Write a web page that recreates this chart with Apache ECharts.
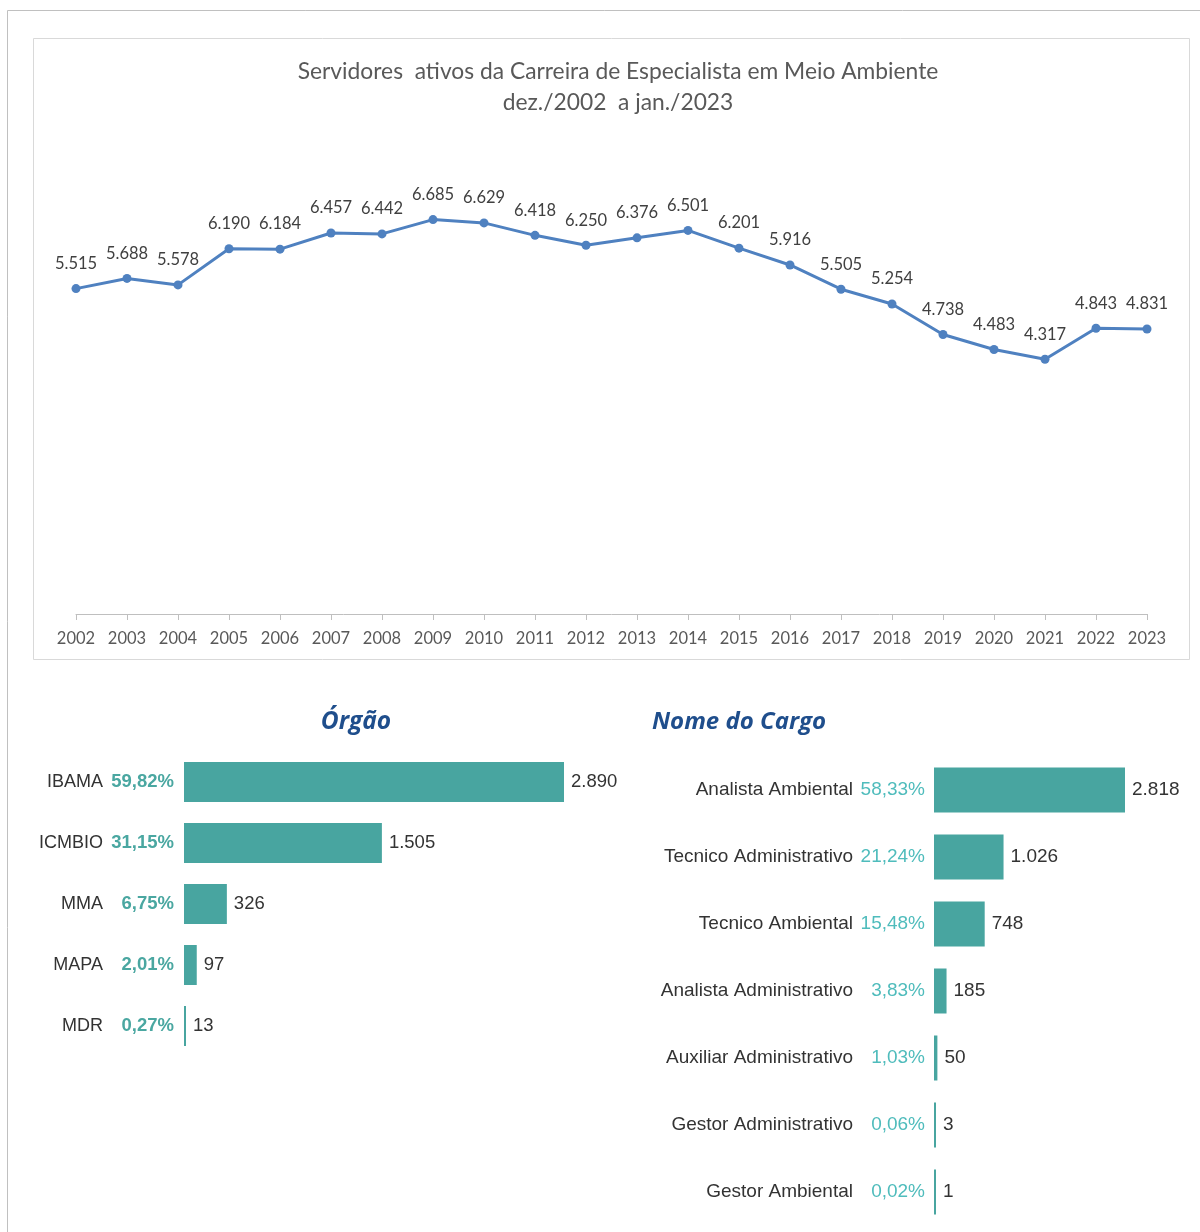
<!DOCTYPE html>
<html><head><meta charset="utf-8">
<script src="https://cdn.jsdelivr.net/npm/echarts@6/dist/echarts.min.js"></script>
<style>html,body{margin:0;padding:0;background:#fff}#c{width:1200px;height:1232px}</style>
</head><body><div id="c"></div>
<script>
var years = ['2002','2003','2004','2005','2006','2007','2008','2009','2010','2011','2012','2013','2014','2015','2016','2017','2018','2019','2020','2021','2022','2023'];
var servidores = [5515,5688,5578,6190,6184,6457,6442,6685,6629,6418,6250,6376,6501,6201,5916,5505,5254,4738,4483,4317,4843,4831];

var orgaoNames = ['IBAMA','ICMBIO','MMA','MAPA','MDR'];
var orgaoPct = ['59,82%','31,15%','6,75%','2,01%','0,27%'];
var orgaoValues = [2890,1505,326,97,13];

var cargoNames = ['Analista Ambiental','Tecnico Administrativo','Tecnico Ambiental','Analista Administrativo','Auxiliar Administrativo','Gestor Administrativo','Gestor Ambiental'];
var cargoPct = ['58,33%','21,24%','15,48%','3,83%','1,03%','0,06%','0,02%'];
var cargoValues = [2818,1026,748,185,50,3,1];

function fmt(v){return String(v).replace(/\B(?=(\d{3})+(?!\d))/g,'.');}

var chart = echarts.init(document.getElementById('c'));
var calib = 'Lato, "Open Sans", sans-serif';
var arial = '"Liberation Sans", Arial, sans-serif';
var teal = '#48a5a0';

chart.setOption({
  animation:false,
  backgroundColor:'#fff',
  title:{
    text:'Servidores  ativos da Carreira de Especialista em Meio Ambiente\ndez./2002  a jan./2023',
    left:613, top:51, textAlign:'center',
    textStyle:{fontFamily:calib,fontSize:22.8,fontWeight:'normal',color:'#595959',lineHeight:31}
  },
  graphic:[
    {type:'rect',shape:{x:7.5,y:10.5,width:1300,height:1300},style:{fill:null,stroke:'#c0c0c0',lineWidth:1},z:-10},
    {type:'rect',shape:{x:33.5,y:38.5,width:1156,height:621},style:{fill:null,stroke:'#d9d9d9',lineWidth:1},z:-9},
    {type:'text',x:356,y:722,style:{text:'Órgão',fontFamily:'"Open Sans", sans-serif',fontSize:24.5,fontWeight:'bold',fontStyle:'italic',fill:'#1f4e8c',textAlign:'center',textVerticalAlign:'middle'}},
    {type:'text',x:652,y:722,style:{text:'Nome do Cargo',fontFamily:'"Open Sans", sans-serif',fontSize:24,fontWeight:'bold',fontStyle:'italic',fill:'#1f4e8c',textAlign:'left',textVerticalAlign:'middle'}}
  ],
  grid:[
    {left:76,right:53,top:142,bottom:618},
    {left:184,width:380,top:751.5,height:305},
    {left:934,width:191,top:756.5,height:469}
  ],
  xAxis:[
    {gridIndex:0,type:'category',data:years,boundaryGap:false,
      axisLine:{lineStyle:{color:'#bfbfbf',width:1}},
      axisTick:{show:true,length:6,lineStyle:{color:'#bfbfbf'}},
      axisLabel:{fontFamily:calib,fontSize:16.5,color:'#595959',margin:16}},
    {gridIndex:1,type:'value',min:0,max:'dataMax',show:false},
    {gridIndex:2,type:'value',min:0,max:'dataMax',show:false}
  ],
  yAxis:[
    {gridIndex:0,type:'value',min:0,max:8000,show:false},
    {gridIndex:1,type:'category',data:orgaoNames,inverse:true,
      axisLine:{show:false},axisTick:{show:false},
      axisLabel:{margin:10,align:'right',
        formatter:function(v,i){return '{n|'+v+'}{p|'+orgaoPct[i]+'}';},
        rich:{
          n:{fontFamily:arial,fontSize:18,color:'#333'},
          p:{fontFamily:arial,fontSize:18.5,fontWeight:'bold',color:'#4aa7a1',width:71,align:'right'}
        }}},
    {gridIndex:2,type:'category',data:cargoNames,inverse:true,
      axisLine:{show:false},axisTick:{show:false},
      axisLabel:{margin:9,align:'right',
        formatter:function(v,i){return '{n|'+v+'}{p|'+cargoPct[i]+'}';},
        rich:{
          n:{fontFamily:arial,fontSize:19,color:'#333'},
          p:{fontFamily:arial,fontSize:19,color:'#4fbcbc',width:72,align:'right'}
        }}}
  ],
  series:[
    {type:'line',xAxisIndex:0,yAxisIndex:0,data:servidores,
      symbol:'circle',symbolSize:9,
      lineStyle:{color:'#4f81c0',width:3},
      itemStyle:{color:'#4f81c0'},
      label:{show:true,position:'top',distance:12,fontFamily:calib,fontSize:16.5,color:'#404040',
        formatter:function(p){return fmt(p.value);}}},
    {type:'bar',xAxisIndex:1,yAxisIndex:1,data:orgaoValues,barWidth:40,barMinHeight:2,
      itemStyle:{color:teal},
      label:{show:true,position:'right',distance:7,fontFamily:arial,fontSize:18.5,color:'#333',
        formatter:function(p){return fmt(p.value);}}},
    {type:'bar',xAxisIndex:2,yAxisIndex:2,data:cargoValues,barWidth:45,barMinHeight:2,
      itemStyle:{color:teal},
      label:{show:true,position:'right',distance:7,fontFamily:arial,fontSize:19,color:'#333',
        formatter:function(p){return fmt(p.value);}}}
  ]
});
</script></body></html>
